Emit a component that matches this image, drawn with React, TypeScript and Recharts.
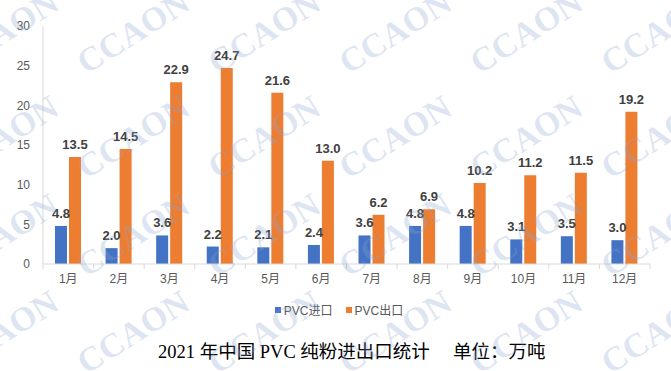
import { BarChart, Bar, XAxis, YAxis, Legend, LabelList } from "recharts";

const months = ["1月", "2月", "3月", "4月", "5月", "6月", "7月", "8月", "9月", "10月", "11月", "12月"];
const pvcImport = [4.8, 2.0, 3.6, 2.2, 2.1, 2.4, 3.6, 4.8, 4.8, 3.1, 3.5, 3.0];
const pvcExport = [13.5, 14.5, 22.9, 24.7, 21.6, 13.0, 6.2, 6.9, 10.2, 11.2, 11.5, 19.2];
const yTicks = [0, 5, 10, 15, 20, 25, 30];

const data = months.map((m, i) => ({ month: m, imp: pvcImport[i], exp: pvcExport[i] }));

const W = 671;
const PLOT_LEFT = 43;
const PLOT_RIGHT = 650;
const BAND = (PLOT_RIGHT - PLOT_LEFT) / months.length;

const wmCols = [4, 135, 266, 397, 528, 659];
const wmRows = [35, 140, 238, 335];

function XTick(props: any) {
  const { x, y, payload, index } = props;
  return (
    <g>
      <line x1={x - BAND / 2} x2={x - BAND / 2} y1={y} y2={y + 5} stroke="#d9d9d9" />
      {index === months.length - 1 && (
        <line x1={x + BAND / 2} x2={x + BAND / 2} y1={y} y2={y + 5} stroke="#d9d9d9" />
      )}
      <text x={x} y={y + 16} textAnchor="middle" dominantBaseline="middle" fontSize={12} fill="#595959">
        {payload.value}
      </text>
    </g>
  );
}

function LegendBox() {
  const items = [
    { name: "PVC进口", color: "#4472C4" },
    { name: "PVC出口", color: "#ED7D31" },
  ];
  return (
    <div
      style={{
        display: "flex",
        justifyContent: "center",
        gap: 13,
        fontSize: 12,
        color: "#595959",
        paddingLeft: 28,
      }}
    >
      {items.map((it) => (
        <div key={it.name} style={{ display: "flex", alignItems: "center" }}>
          <span style={{ width: 6, height: 6, background: it.color, marginRight: 3, display: "inline-block" }} />
          <span>{it.name}</span>
        </div>
      ))}
    </div>
  );
}

const labelStyle = { fontSize: 13, fill: "#404040", fontWeight: 600 };

export default function App() {
  return (
    <div
      style={{
        position: "fixed",
        left: 0,
        top: 0,
        width: W,
        height: 371,
        background: "#fff",
        fontFamily: "'Liberation Sans', Arial, 'Noto Sans CJK SC', sans-serif",
        overflow: "hidden",
      }}
    >
      <BarChart
        width={W}
        height={328}
        data={data}
        margin={{ top: 26, right: W - PLOT_RIGHT, bottom: 0, left: 0 }}
        barSize={12}
        barGap={2}
      >
        <YAxis
          domain={[0, 30]}
          ticks={yTicks}
          width={PLOT_LEFT}
          tickLine={false}
          tickMargin={7}
          axisLine={{ stroke: "#d9d9d9" }}
          tick={{ fontSize: 12, fill: "#595959" }}
        />
        <XAxis
          dataKey="month"
          height={30}
          tickLine={false}
          tickSize={0}
          tickMargin={0}
          axisLine={{ stroke: "#d9d9d9" }}
          tick={<XTick />}
          interval={0}
        />
        <Legend verticalAlign="bottom" height={27} content={() => <LegendBox />} wrapperStyle={{ paddingTop: 7 }} />
        <Bar dataKey="imp" name="PVC进口" fill="#4472C4" isAnimationActive={false}>
          <LabelList dataKey="imp" position="top" offset={8} formatter={(v: any) => Number(v).toFixed(1)} style={labelStyle} />
        </Bar>
        <Bar dataKey="exp" name="PVC出口" fill="#ED7D31" isAnimationActive={false}>
          <LabelList dataKey="exp" position="top" offset={8} formatter={(v: any) => Number(v).toFixed(1)} style={labelStyle} />
        </Bar>
      </BarChart>
      <div
        style={{
          position: "absolute",
          left: 158,
          top: 341,
          fontSize: 18.5,
          lineHeight: "22px",
          color: "#000",
          whiteSpace: "pre",
          fontFamily: "'Liberation Serif', 'Noto Sans CJK SC', serif",
        }}
      >
        {"2021 年中国 PVC 纯粉进出口统计     单位：万吨"}
      </div>
      <svg
        width={W}
        height={371}
        style={{ position: "absolute", left: 0, top: 0, pointerEvents: "none" }}
      >
        {wmRows.map((ry) =>
          wmCols.map((cx) => (
            <text
              key={`${cx}-${ry}`}
              x={cx}
              y={ry}
              textAnchor="middle"
              dominantBaseline="middle"
              transform={`rotate(-32 ${cx} ${ry})`}
              fontFamily="'Liberation Serif', serif"
              fontWeight="bold"
              fontSize={34}
              fill="rgba(140,165,210,0.28)"
            >
              CCAON
            </text>
          ))
        )}
      </svg>
    </div>
  );
}
